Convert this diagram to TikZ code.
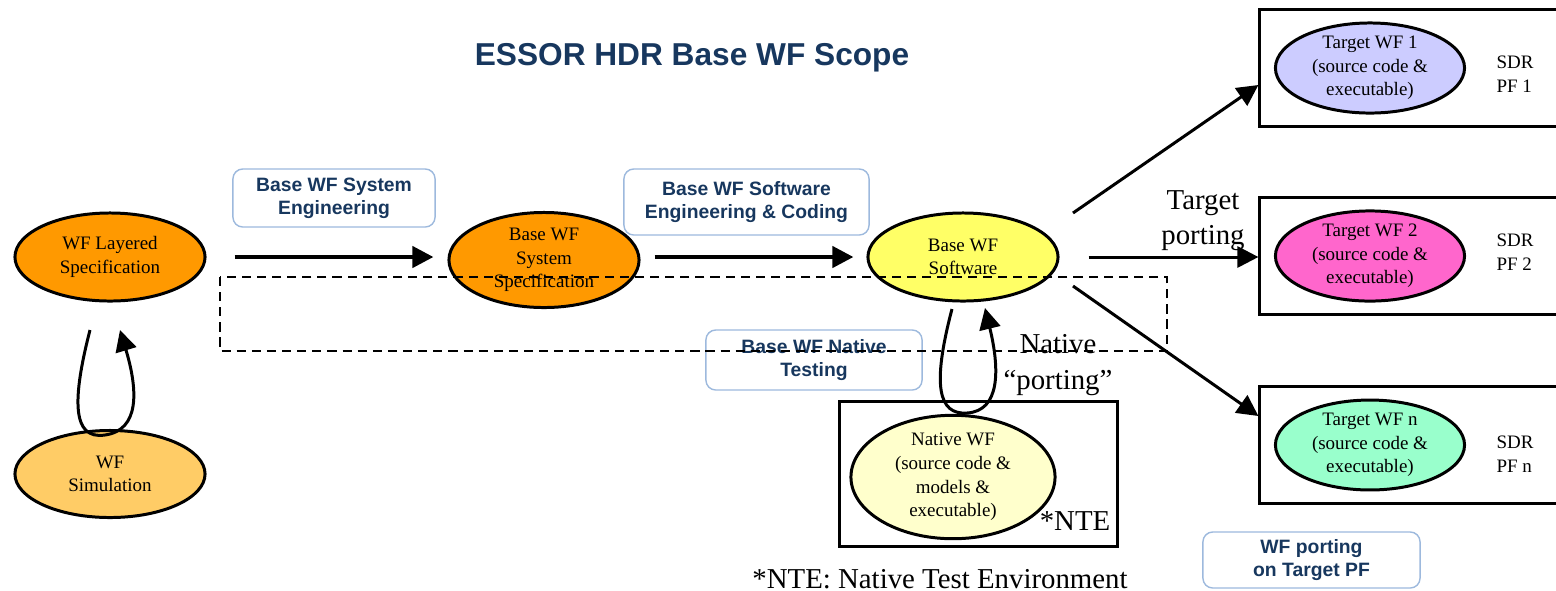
\documentclass[tikz,border=0pt]{standalone}
\usepackage{fontspec}
\setmainfont{Liberation Serif}
\setsansfont{Liberation Sans}
\usetikzlibrary{shapes.geometric,arrows.meta,calc}
\definecolor{essorblue}{HTML}{17375E}
\definecolor{tagline}{HTML}{9DB9DD}
\definecolor{specorange}{HTML}{FF9900}
\definecolor{simorange}{HTML}{FFCC66}
\definecolor{swyellow}{HTML}{FFFF66}
\definecolor{nativeyellow}{HTML}{FFFFCC}
\definecolor{targetblue}{HTML}{CCCCFF}
\definecolor{targetpink}{HTML}{FF66CC}
\definecolor{targetgreen}{HTML}{99FFCC}
\begin{document}
\begin{tikzpicture}[x=0.01cm,y=-0.01cm,
  wf/.style={ellipse,draw,line width=0.85pt,inner sep=0pt,minimum width=1.9cm,minimum height=0.88cm,
    align=center,font=\fontsize{5.4}{6.7}\selectfont},
  phase/.style={draw=tagline,line width=0.4pt,rounded corners=2.8pt,inner sep=0pt,align=center,
    text=essorblue,font=\sffamily\bfseries\fontsize{5.5}{6.5}\selectfont},
  pfbox/.style={draw,line width=0.85pt,inner sep=0pt,minimum width=3cm,minimum height=1.16cm},
  flow/.style={line width=1.2pt,-{Triangle[length=6pt,width=6pt]}},
  loopline/.style={line width=0.85pt,-{Triangle[length=6pt,width=6pt]}},
  big/.style={font=\fontsize{8.2}{10}\selectfont,align=center},
  small/.style={font=\fontsize{5.4}{6.8}\selectfont,align=left}]
  \useasboundingbox (0,0) rectangle (1556,590);

  \node[text=essorblue,font=\sffamily\bfseries\fontsize{9}{11}\selectfont] (title) at (692,58) {ESSOR HDR Base WF Scope};

  % phase labels
  \node[phase,minimum width=2.02cm,minimum height=0.58cm] (syseng) at (334,198) {Base WF System\\Engineering};
  \node[phase,minimum width=2.45cm,minimum height=0.66cm] (sweng) at (746.5,202) {Base WF Software\\Engineering \& Coding};
  \node[phase,minimum width=2.16cm,minimum height=0.6cm] (nattest) at (814,360) {Base WF Native\\Testing};
  \node[phase,minimum width=2.17cm,minimum height=0.56cm] (porting) at (1311.5,560) {WF porting\\on Target PF};

  % platforms
  \node[draw,line width=0.85pt,minimum width=2.77cm,minimum height=1.44cm] (ntebox) at (978.5,474) {};
  \node[pfbox] (tbox1) at (1410,68) {};
  \node[pfbox] (tbox2) at (1410,256) {};
  \node[pfbox] (tbox3) at (1410,445) {};

  % waveforms
  \node[wf,fill=specorange] (layered) at (110,257) {WF Layered\\Specification};
  \node[wf,fill=simorange,minimum height=0.87cm] (sim) at (110,474) {WF\\Simulation};
  \node[wf,fill=specorange,minimum height=0.95cm] (sysspec) at (544,260) {Base WF\\System\\Specification};
  \node[wf,fill=swyellow] (sw) at (963,257) {Base WF\\Software};
  \node[wf,fill=nativeyellow,minimum width=2.04cm,minimum height=1.23cm] (native) at (953,477) {Native WF\\(source code \&\\models \&\\executable)};
  \node[wf,fill=targetblue,minimum width=1.89cm] (tgt1) at (1370,68) {Target WF 1\\(source code \&\\executable)};
  \node[wf,fill=targetpink,minimum width=1.89cm] (tgt2) at (1370,256) {Target WF 2\\(source code \&\\executable)};
  \node[wf,fill=targetgreen,minimum width=1.89cm] (tgt3) at (1370,445) {Target WF n\\(source code \&\\executable)};

  \node[small] (pf1) at (1515,74) {SDR\\PF 1};
  \node[small] (pf2) at (1515,252.5) {SDR\\PF 2};
  \node[small] (pf3) at (1515,454) {SDR\\PF n};

  % flow
  \draw[flow,shorten <=0.28cm,shorten >=0.14cm] (layered.east) -- (sysspec.west |- layered.east);
  \draw[flow,shorten <=0.14cm,shorten >=0.13cm] (sysspec.east |- sw.west) -- (sw.west);
  \coordinate (out1) at (1073,213);
  \coordinate (out3) at (1073,286);
  \draw[flow,line width=0.85pt] (out1) -- ($(tbox1.west)+(0,17)$);
  \draw[flow,line width=0.85pt,shorten <=0.29cm] (sw.east) -- (tbox2.west |- sw.east);
  \draw[flow,line width=0.85pt] (out3) -- ($(tbox3.west)+(0,-29)$);

  % loops
  \coordinate (simout) at (90,330);
  \coordinate (simin) at (120,330);
  \draw[loopline] (simout) .. controls (72,400) and (72,440) .. (105,435) .. controls (140,430) and (138,390) .. (simin);
  \coordinate (natout) at (952,309);
  \coordinate (natin) at (985,308);
  \draw[loopline] (natout) .. controls (932,385) and (938,415) .. (967,413) .. controls (1000,411) and (1000,370) .. (natin);

  \node[big] (tport) at (1203,221) {Target\\porting};
  \node[big] (nport) at (1058,365) {Native\\“porting”};
  \node[big] (nte) at (1075,521) {*NTE};
  \node[big] (ntenote) at (940,579) {*NTE: Native Test Environment};

  % native test scope
  \draw[line width=0.75pt,dash pattern=on 2.6pt off 1.7pt] (220,277) rectangle (1167,351);
\end{tikzpicture}
\end{document}
